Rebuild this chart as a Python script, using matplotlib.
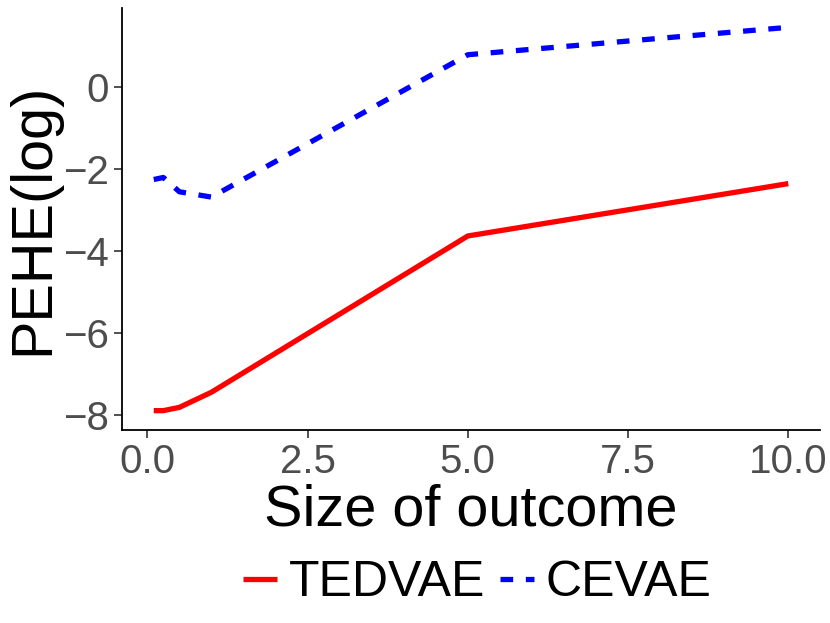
import matplotlib
matplotlib.use('Agg')
import matplotlib.pyplot as plt
from matplotlib.lines import Line2D

plt.rcParams['font.family'] = ['Liberation Sans', 'DejaVu Sans']

# outcome sizes and log PEHE values
size = [0.1, 0.25, 0.5, 1, 5, 10]
tedvae = [-7.9, -7.9, -7.82, -7.45, -3.63, -2.35]
cevae = [-2.25, -2.2, -2.55, -2.68, 0.8, 1.47]

fig = plt.figure(figsize=(8.3, 6.23), dpi=100)
ax = fig.add_axes([0.147, 0.31, 0.841, 0.677])

ax.plot(size, tedvae, color='red', lw=3.8, solid_capstyle='butt')
ax.plot(size, cevae, color='blue', lw=3.8, dashes=(2.4, 2.4), dash_capstyle='butt')

ax.set_xlim(-0.395, 10.495)
ax.set_ylim(-8.37, 1.94)
ax.set_xticks([0, 2.5, 5, 7.5, 10])
ax.set_xticklabels(['0.0', '2.5', '5.0', '7.5', '10.0'])
ax.set_yticks([-8, -6, -4, -2, 0])
ax.set_yticklabels(['\u22128', '\u22126', '\u22124', '\u22122', '0'])
ax.tick_params(labelsize=29, labelcolor='#4D4D4D', color='#333333', length=6, width=1.2)

for s in ['top', 'right']:
    ax.spines[s].set_visible(False)
for s in ['left', 'bottom']:
    ax.spines[s].set_linewidth(1.3)

ax.set_xlabel('Size of outcome', fontsize=41.5, labelpad=2)
ax.set_ylabel('PEHE(log)', fontsize=41.5)
ax.yaxis.set_label_coords(-0.088, 0.5)

handles = [Line2D([], [], color='red', lw=3.8, solid_capstyle='butt'),
           Line2D([], [], color='blue', lw=3.8, dashes=(2.4, 2.4), dash_capstyle='butt')]
fig.legend(handles, ['TEDVAE', 'CEVAE'], loc='center', bbox_to_anchor=(0.575, 0.064),
           ncol=2, frameon=False, fontsize=36, handlelength=0.68,
           handletextpad=0.24, columnspacing=0.3)

fig.savefig('out.png', dpi=100)
